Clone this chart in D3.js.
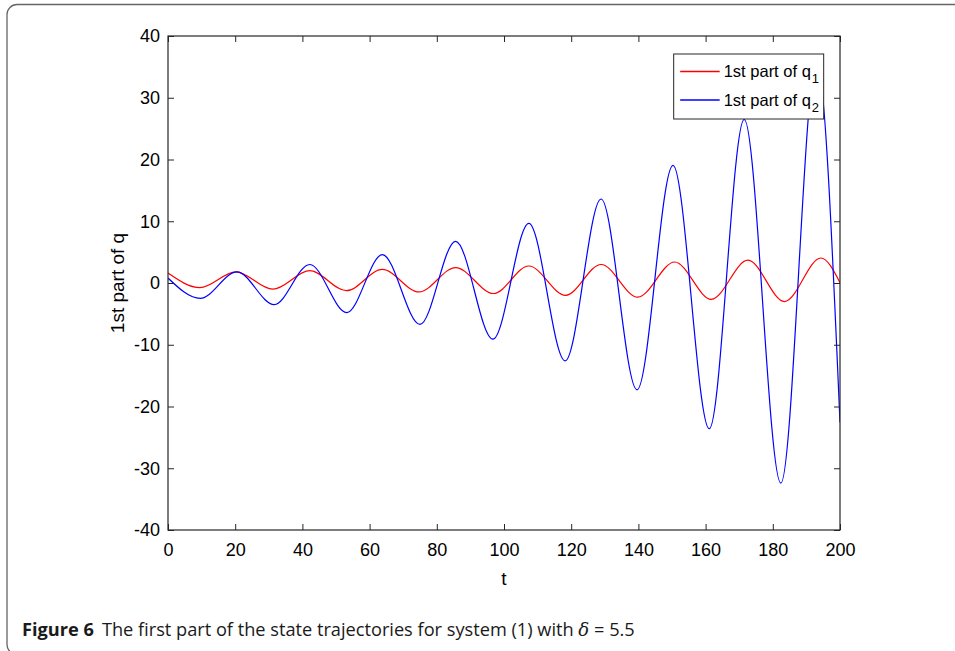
<!DOCTYPE html>
<html lang='en'>
<head>
  <meta charset='UTF-8'>
  <title>Figure 6</title>
  <style>
    * {
      margin: 0;
      padding: 0;
    }
    body {
      background: #fff;
    }
    #chart {
      width: 955px;
      height: 651px;
    }
  </style>
</head>
<body>
<script src='https://cdn.jsdelivr.net/npm/d3@7'></script>
<div id='chart'></div>
<script>
  // red: 1st part of q1 (extrema)
  const tRed = [0, 9.5, 20.2, 31.2, 42.2, 53.1, 63.8, 74.7, 85.6, 96.9, 107.4, 118.3, 128.9, 139.8, 150.8, 161.7, 172.6, 183.5, 194.3, 200]
  const qRed = [1.6, -0.75, 1.8, -1.0, 2.0, -1.25, 2.2, -1.45, 2.5, -1.7, 2.75, -2.0, 3.0, -2.3, 3.4, -2.65, 3.7, -3.0, 4.05, 0.05]
  // blue: 1st part of q2
  const tBlue = [0, 9.6, 20.5, 31.6, 42.2, 53.2, 63.8, 75, 85.6, 96.7, 107.4, 118.2, 128.9, 139.6, 150.3, 161.1, 171.5, 182.4, 193, 200]
  const qBlue = [0.8, -2.5, 1.8, -3.5, 3.0, -4.8, 4.6, -6.7, 6.75, -9.1, 9.65, -12.6, 13.6, -17.3, 19.06, -23.6, 26.5, -32.4, 36, -22.6]

  const xTicks = [0, 20, 40, 60, 80, 100, 120, 140, 160, 180, 200]
  const yTicks = [-40, -30, -20, -10, 0, 10, 20, 30, 40]
  const legendLabels = ['q1', 'q2']

  let margin = {top: 36, right: 115, bottom: 121, left: 168}
  let width = 955 - margin.left - margin.right
  let height = 651 - margin.top - margin.bottom

  let svg = d3.select('#chart')
  .append('svg')
  .attr('xmlns', 'http://www.w3.org/2000/svg')
  .attr('width', 955)
  .attr('height', 651)

  // outer frame of the figure
  svg.append('rect')
  .attr('x', 7).attr('y', 4.5)
  .attr('width', 980).attr('height', 650)
  .attr('rx', 10)
  .style('fill', '#fff')
  .style('stroke', '#666')
  .style('stroke-width', 1.3)

  let chart = svg.append('g')
  .attr('transform', 'translate(' + margin.left + ',' + margin.top + ')')

  let x = d3.scaleLinear().domain([0, 200]).range([0, width])
  let y = d3.scaleLinear().domain([-40, 40]).range([height, 0])

  chart.append('clipPath').attr('id', 'clip')
  .append('rect').attr('width', width).attr('height', height)

  let line = d3.line()
  .x((d) => x(d[0]))
  .y((d) => y(d[1]))
  .curve(d3.curveMonotoneX)

  let series = [
    {t: tRed, q: qRed, color: '#ff0000'},
    {t: tBlue, q: qBlue, color: '#0000ff'}
  ]
  series.forEach(s => {
    chart.append('path')
    .attr('clip-path', 'url(#clip)')
    .attr('fill', 'none')
    .attr('stroke', s.color)
    .attr('stroke-width', 1.2)
    .attr('d', line(s.t.map((t, i) => [t, s.q[i]])))
  })

  // axes, matlab style: ticks inside, box all round
  let font = '"Liberation Sans", Arial, sans-serif'
  let fmt = d => String(d)
  function styleAxis (g) {
    g.attr('font-size', null).attr('font-family', null)
    g.select('.domain').remove()
    g.selectAll('line').attr('stroke', '#262626')
    g.selectAll('text').style('font-family', font).style('font-size', '18px').attr('fill', '#000')
  }
  chart.append('g')
  .attr('transform', 'translate(0,' + height + ')')
  .call(d3.axisBottom(x).tickValues(xTicks).tickFormat(fmt).tickSizeInner(-6).tickSizeOuter(0).tickPadding(13))
  .call(styleAxis)
  chart.append('g')
  .call(d3.axisTop(x).tickValues(xTicks).tickSizeInner(-6).tickSizeOuter(0).tickFormat(''))
  .call(styleAxis)
  chart.append('g')
  .call(d3.axisLeft(y).tickValues(yTicks).tickFormat(fmt).tickSizeInner(-6).tickSizeOuter(0).tickPadding(8))
  .call(styleAxis)
  chart.append('g')
  .attr('transform', 'translate(' + width + ',0)')
  .call(d3.axisRight(y).tickValues(yTicks).tickSizeInner(-6).tickSizeOuter(0).tickFormat(''))
  .call(styleAxis)

  chart.append('rect')
  .attr('width', width).attr('height', height)
  .attr('fill', 'none').attr('stroke', '#262626').attr('stroke-width', 1.2)

  // axis titles
  chart.append('text')
  .attr('x', width / 2).attr('y', height + 55)
  .attr('text-anchor', 'middle')
  .style('font-family', font).style('font-size', '19px')
  .text('t')
  chart.append('text')
  .attr('transform', 'translate(' + (-44) + ',' + (height / 2) + ') rotate(-90)')
  .attr('text-anchor', 'middle')
  .style('font-family', font).style('font-size', '19px')
  .text('1st part of q')

  // legend
  let legend = chart.append('g').attr('transform', 'translate(' + (x(150.5) ) + ',' + 18 + ')')
  legend.append('rect')
  .attr('width', 150).attr('height', 65)
  .attr('fill', '#fff').attr('stroke', '#262626').attr('stroke-width', 1)
  legendLabels.forEach((lab, i) => {
    let row = legend.append('g').attr('transform', 'translate(0,' + (17.5 + i * 28.5) + ')')
    row.append('line')
    .attr('x1', 6.5).attr('x2', 46)
    .style('stroke', series[i].color).style('stroke-width', 1.4)
    let txt = row.append('text')
    .attr('x', 50).attr('dy', '0.35em')
    .style('font-family', font).style('font-size', '16.5px')
    txt.append('tspan').text('1st part of ' + lab[0])
    txt.append('tspan').attr('dy', 6).attr('dx', 1).style('font-size', '13px').text(lab.slice(1))
  })

  // caption
  let cap = svg.append('text')
  .attr('x', 22).attr('y', 636)
  .style('font-family', '"Open Sans", "Noto Sans", sans-serif')
  .style('font-size', '18.2px')
  .attr('fill', '#1a1a1a')
  cap.append('tspan').style('font-weight', 'bold').text('Figure 6')
  cap.append('tspan').attr('dx', 8).text('The first part of the state trajectories for system (1) with ')
  cap.append('tspan').style('font-style', 'italic').style('font-family', '"DejaVu Serif", serif').text('δ')
  cap.append('tspan').text(' = 5.5')
</script>
</body>
</html>
